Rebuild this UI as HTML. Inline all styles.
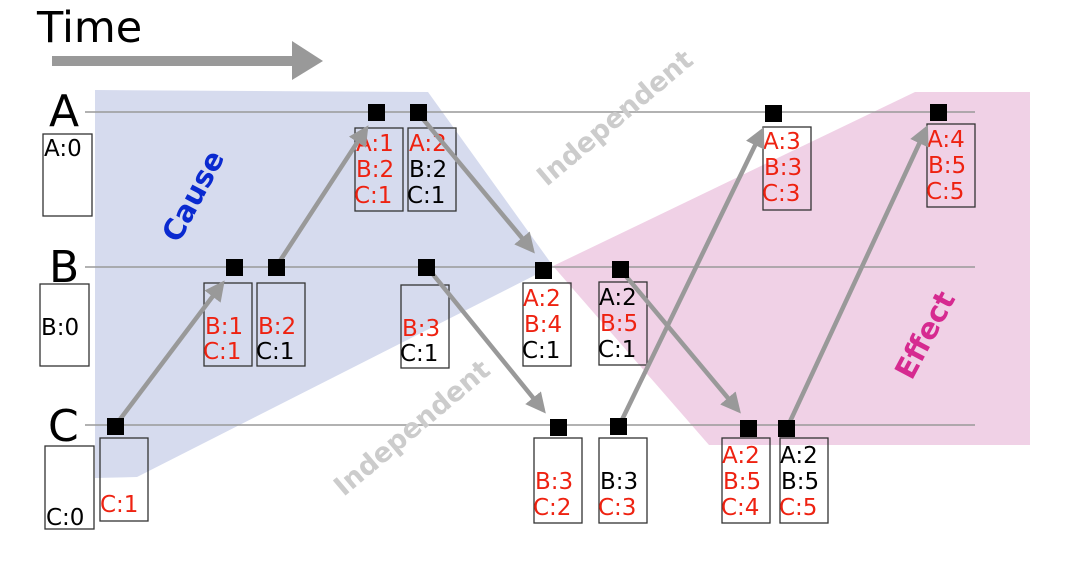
<!DOCTYPE html>
<html><head><meta charset="utf-8"><style>
html,body{margin:0;padding:0;background:#fff;}
svg{display:block;}
text{font-family:"DejaVu Sans","Liberation Sans",sans-serif;}
.r{fill:#ee2211;}
.k{fill:#000;}
.v text{font-size:23px;}
</style></head><body>
<svg width="1088" height="579" viewBox="0 0 1088 579" xmlns="http://www.w3.org/2000/svg">
<defs>
<marker id="ah" markerWidth="4.5" markerHeight="4.5" refX="3.5" refY="2.25" orient="auto" markerUnits="strokeWidth">
<path d="M0,0 L4.5,2.25 L0,4.5 Z" fill="#999"/>
</marker>
</defs>
<polygon points="95,90 428,92 553,266 137,477 95,478" fill="#d6dbee"/>
<polygon points="553,266 915,92 1030,92 1030,445 709,445" fill="#f0d1e6"/>
<text x="37" y="42" font-size="43" fill="#000">Time</text>
<rect x="52" y="56" width="242" height="10" fill="#999"/>
<polygon points="292,41 323,61 292,80" fill="#999"/>
<g stroke="#999" stroke-width="1.5">
<line x1="85" y1="112" x2="975" y2="112"/>
<line x1="85" y1="267" x2="975" y2="267"/>
<line x1="85" y1="425" x2="975" y2="425"/>
</g>
<text x="49" y="126" font-size="44">A</text>
<text x="49" y="282" font-size="44">B</text>
<text x="48" y="441" font-size="44">C</text>
<text transform="translate(193,196) rotate(-62)" text-anchor="middle" font-size="29" font-weight="bold" fill="#0a2ad0" dy="10">Cause</text>
<text transform="translate(925,335) rotate(-62)" text-anchor="middle" font-size="29" font-weight="bold" fill="#d62a90" dy="10">Effect</text>
<text transform="translate(615,118) rotate(-40)" text-anchor="middle" font-size="27" font-weight="bold" fill="#cccccc" dy="9">Independent</text>
<text transform="translate(412,428) rotate(-40)" text-anchor="middle" font-size="27" font-weight="bold" fill="#cccccc" dy="9">Independent</text>
<g fill="none" stroke="#333" stroke-width="1.3">
<rect x="43" y="134" width="49" height="82"/>
<rect x="40" y="284" width="49" height="82"/>
<rect x="45" y="446" width="49" height="83"/>
<rect x="100" y="438" width="48" height="83"/>
<rect x="204" y="283" width="48" height="83"/>
<rect x="257" y="283" width="48" height="83"/>
<rect x="401" y="285" width="48" height="83"/>
<rect x="355" y="128" width="48" height="83"/>
<rect x="408" y="128" width="48" height="83"/>
<rect x="523" y="283" width="48" height="83"/>
<rect x="599" y="282" width="48" height="83"/>
<rect x="763" y="127" width="48" height="83"/>
<rect x="927" y="124" width="48" height="83"/>
<rect x="534" y="438" width="48" height="85"/>
<rect x="599" y="438" width="48" height="85"/>
<rect x="722" y="438" width="48" height="85"/>
<rect x="780" y="438" width="48" height="85"/>
</g>
<rect x="44" y="135" width="47" height="80" fill="#fff"/>
<rect x="41" y="285" width="47" height="80" fill="#fff"/>
<rect x="46" y="447" width="47" height="81" fill="#fff"/>
<g class="v">
<text x="44" y="156" class="k">A:0</text>
<text x="41" y="335" class="k">B:0</text>
<text x="46" y="525" class="k">C:0</text>
<text x="100" y="512" class="r">C:1</text>
<text x="205" y="334" class="r">B:1</text><text x="203" y="359" class="r">C:1</text>
<text x="258" y="334" class="r">B:2</text><text x="256" y="359" class="k">C:1</text>
<text x="402" y="336" class="r">B:3</text><text x="400" y="361" class="k">C:1</text>
<text x="356" y="151" class="r">A:1</text><text x="356" y="177" class="r">B:2</text><text x="354" y="203" class="r">C:1</text>
<text x="409" y="151" class="r">A:2</text><text x="409" y="177" class="k">B:2</text><text x="407" y="203" class="k">C:1</text>
<text x="523" y="306" class="r">A:2</text><text x="524" y="332" class="r">B:4</text><text x="522" y="358" class="k">C:1</text>
<text x="599" y="305" class="k">A:2</text><text x="600" y="331" class="r">B:5</text><text x="598" y="357" class="k">C:1</text>
<text x="763" y="149" class="r">A:3</text><text x="764" y="175" class="r">B:3</text><text x="762" y="201" class="r">C:3</text>
<text x="927" y="147" class="r">A:4</text><text x="928" y="173" class="r">B:5</text><text x="926" y="199" class="r">C:5</text>
<text x="535" y="489" class="r">B:3</text><text x="533" y="515" class="r">C:2</text>
<text x="600" y="489" class="k">B:3</text><text x="598" y="515" class="r">C:3</text>
<text x="722" y="463" class="r">A:2</text><text x="723" y="489" class="r">B:5</text><text x="721" y="515" class="r">C:4</text>
<text x="780" y="463" class="k">A:2</text><text x="781" y="489" class="k">B:5</text><text x="779" y="515" class="r">C:5</text>
</g>
<g stroke="#999" stroke-width="4.5" fill="none" marker-end="url(#ah)">
<line x1="115" y1="426" x2="222" y2="284"/>
<line x1="276" y1="267" x2="366" y2="129"/>
<line x1="418" y1="113" x2="532" y2="250"/>
<line x1="427" y1="267" x2="543" y2="410"/>
<line x1="619" y1="426" x2="762" y2="131"/>
<line x1="620" y1="269" x2="738" y2="410"/>
<line x1="787" y1="428" x2="926" y2="129"/>
</g>
<g fill="#000">
<rect x="368" y="104" width="17" height="17"/>
<rect x="410" y="104" width="17" height="17"/>
<rect x="765" y="105" width="17" height="17"/>
<rect x="930" y="104" width="17" height="17"/>
<rect x="226" y="259" width="17" height="17"/>
<rect x="268" y="259" width="17" height="17"/>
<rect x="418" y="259" width="17" height="17"/>
<rect x="535" y="262" width="17" height="17"/>
<rect x="612" y="261" width="17" height="17"/>
<rect x="107" y="418" width="17" height="17"/>
<rect x="550" y="419" width="17" height="17"/>
<rect x="610" y="418" width="17" height="17"/>
<rect x="740" y="420" width="17" height="17"/>
<rect x="778" y="420" width="17" height="17"/>
</g>
</svg>
</body></html>
